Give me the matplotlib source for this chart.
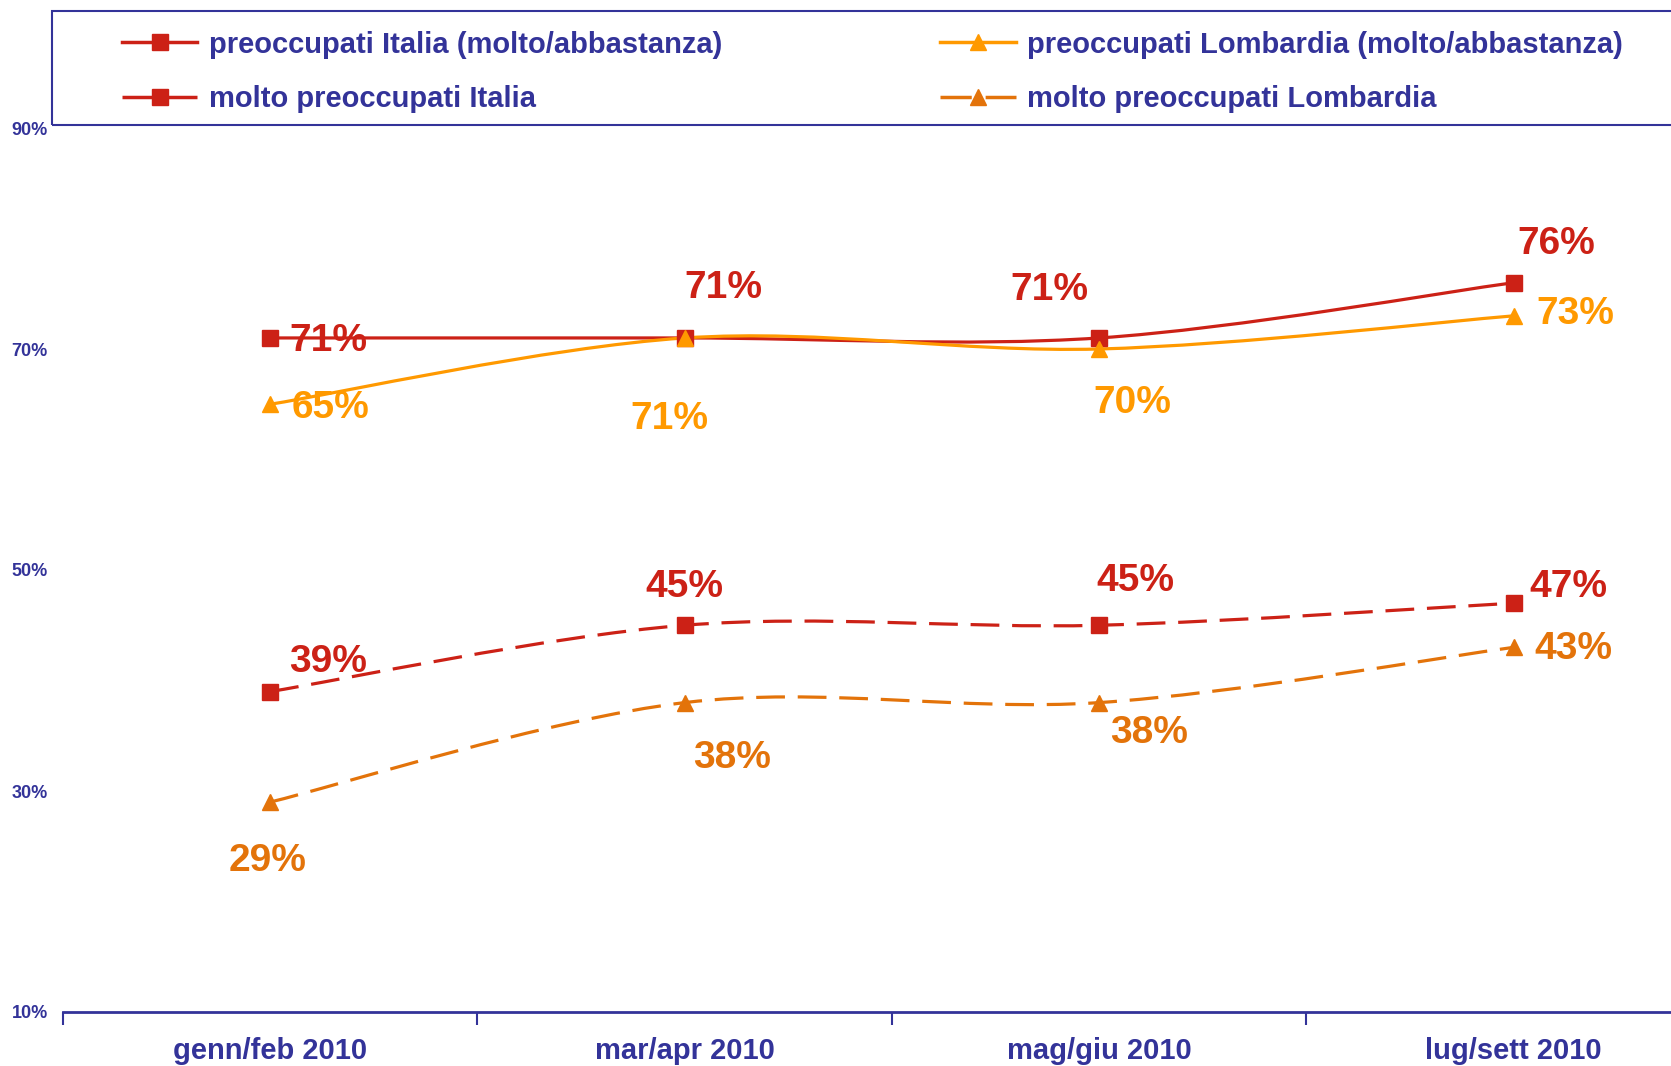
import numpy as np
import matplotlib; matplotlib.use("Agg")
from matplotlib import pyplot as plt
from matplotlib.path import Path
from matplotlib.patches import PathPatch, Rectangle
from matplotlib.lines import Line2D

# ---- data ----
periods = ["genn/feb 2010", "mar/apr 2010", "mag/giu 2010", "lug/sett 2010"]
italia = [71, 71, 71, 76]
lombardia = [65, 71, 70, 73]
molto_italia = [39, 45, 45, 47]
molto_lombardia = [29, 38, 38, 43]
y_ticks = [10, 30, 50, 70, 90]

NAVY = "#333399"
RED = "#CC2116"
ORANGE = "#FF9900"
DORANGE = "#E3730A"
FONT = ["Liberation Sans", "DejaVu Sans"]


def smooth_path(xs, ys):
    # Excel-style smoothed line: cubic Bezier through the data points
    p = np.column_stack([xs, ys]).astype(float)
    n = len(p)
    verts, codes = [p[0]], [Path.MOVETO]
    for i in range(n - 1):
        p0, p1, p2, p3 = p[max(i - 1, 0)], p[i], p[i + 1], p[min(i + 2, n - 1)]
        verts += [p1 + (p2 - p0) / 6, p2 - (p3 - p1) / 6, p2]
        codes += [Path.CURVE4] * 3
    return Path(verts, codes)


fig = plt.figure(figsize=(16.71, 10.66), dpi=100)
ax = fig.add_axes([63 / 1671, 54 / 1066, 1 - 63 / 1671, (1012 - 128) / 1066])
x = np.arange(len(periods))

series = [
    (italia, RED, "-", "s", "preoccupati Italia (molto/abbastanza)"),
    (lombardia, ORANGE, "-", "^", "preoccupati Lombardia (molto/abbastanza)"),
    (molto_italia, RED, (0, (9, 4)), "s", "molto preoccupati Italia"),
    (molto_lombardia, DORANGE, (0, (9, 4)), "^", "molto preoccupati Lombardia"),
]

# label offsets in pixels (dx right, dy down)
offsets = {
    0: [(58, 3), (39, -50), (-50, -48), (43, -39)],
    1: [(60, 4), (-15, 81), (33, 54), (62, -2)],
    2: [(58, -30), (0, -38), (36, -44), (55, -16)],
    3: [(-3, 59), (47, 55), (50, 30), (60, 2)],
}

ax.set_yticks(y_ticks)
ax.set_yticklabels([f"{t}%" for t in y_ticks], fontsize=13, fontweight="bold",
                   color=NAVY, family=FONT)
ax.tick_params(axis="y", length=0, pad=11)
ax.set_xticks(np.arange(-0.5, 4, 1))
ax.set_xticklabels([])
ax.set_xticks(x, minor=True)
ax.set_xticklabels(periods, minor=True, fontsize=21, fontweight="bold",
                   color=NAVY, family=FONT)
ax.tick_params(axis="x", which="major", length=9, width=1.5, color=NAVY, direction="out")
ax.tick_params(axis="x", which="minor", length=0, pad=18)
ax.set_xlim(-0.5, 3.38)
ax.set_ylim(10, 90)
for s in ["left", "right", "top"]:
    ax.spines[s].set_visible(False)
ax.spines["bottom"].set_color(NAVY)
ax.spines["bottom"].set_linewidth(2)
ax.set_facecolor("none")

for k, (vals, col, ls, mk, _) in enumerate(series):
    ax.add_patch(PathPatch(smooth_path(x, vals), fill=False, edgecolor=col, lw=2.3,
                           linestyle=ls, capstyle="butt", zorder=2))
    ax.plot(x, vals, ls="none", marker=mk, ms=12, color=col, mec=col, zorder=3)
    for i, v in enumerate(vals):
        dx, dy = offsets[k][i]
        ax.annotate(f"{v}%", (x[i], v), xytext=(dx, -dy), textcoords="offset pixels",
                    ha="center", va="center", fontsize=28, fontweight="bold",
                    color=col, family=FONT, zorder=4)

# legend box
fig.patches.append(Rectangle((52 / 1671, 1 - 125 / 1066), 1.0, (125 - 11) / 1066,
                             transform=fig.transFigure, fill=False, edgecolor=NAVY, lw=1.5))
handles = [Line2D([], [], color=col, ls=ls, lw=2.5, marker=mk, ms=12, mec=col)
           for _, col, ls, mk, _ in series]
labels = [s[4] for s in series]
order = [0, 2, 1, 3]
leg = fig.legend([handles[i] for i in order], [labels[i] for i in order], ncol=2,
                 loc="upper left", bbox_to_anchor=(107 / 1671, 1 - 16 / 1066),
                 frameon=False, borderpad=0, handlelength=2.6, handletextpad=0.4,
                 columnspacing=7.45, labelspacing=0.92,
                 prop={"family": FONT, "weight": "bold", "size": 21})
for t in leg.get_texts():
    t.set_color(NAVY)

fig.savefig("out.png", dpi=100)
